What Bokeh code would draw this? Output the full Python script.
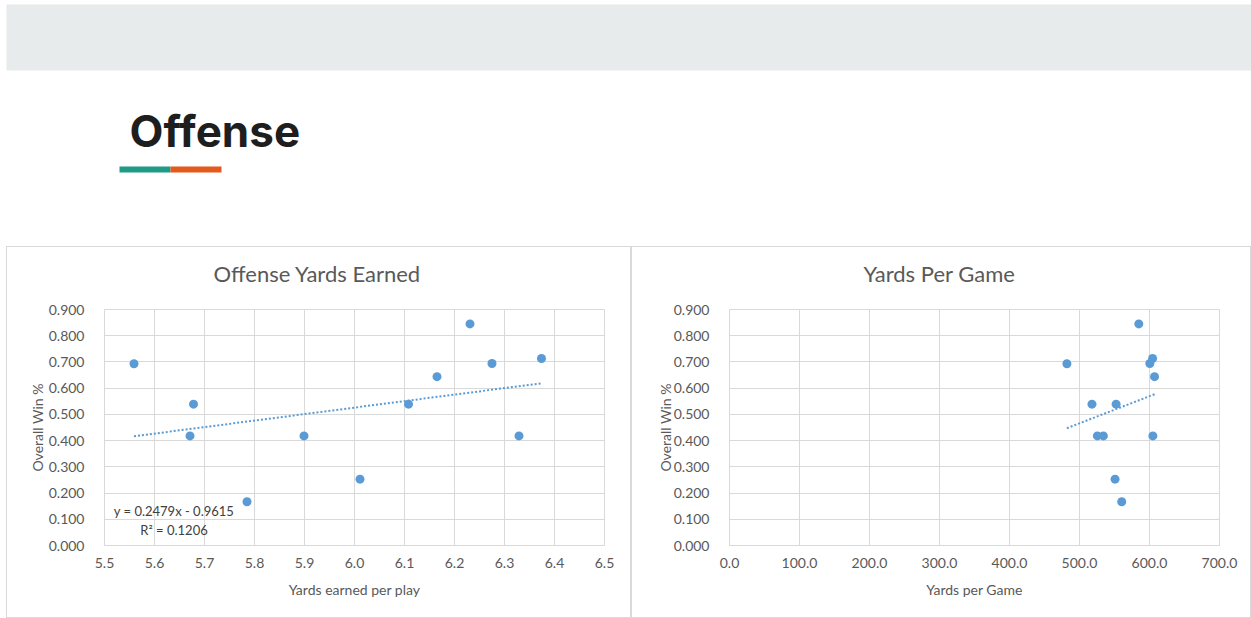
import numpy as np
from bokeh.plotting import figure
from bokeh.layouts import column, row
from bokeh.models import Range1d, FixedTicker, NumeralTickFormatter, Label, Spacer, Title
from bokeh.core.properties import value
from bokeh.embed import file_html
from bokeh.resources import INLINE

# ---------------- data ----------------
yards_per_play = [5.559, 5.678, 5.671, 5.785, 5.899, 6.011, 6.108, 6.165, 6.231, 6.275, 6.329, 6.374]
win_pct_a = [0.693, 0.539, 0.418, 0.167, 0.418, 0.253, 0.539, 0.644, 0.845, 0.694, 0.418, 0.713]

yards_per_game = [482.0, 517.8, 552.3, 525.5, 534.1, 604.8, 550.8, 560.3, 584.7, 604.4, 600.5, 607.2]
win_pct_b = [0.693, 0.539, 0.539, 0.418, 0.418, 0.418, 0.253, 0.167, 0.845, 0.713, 0.694, 0.644]

trend_a_slope = 0.2479
trend_a_intercept = -0.9615
trend_a_labels = ["y = 0.2479x - 0.9615", "R\u00b2 = 0.1206"]

x_ticks_a = [5.5, 5.6, 5.7, 5.8, 5.9, 6.0, 6.1, 6.2, 6.3, 6.4, 6.5]
x_ticks_b = [0, 100, 200, 300, 400, 500, 600, 700]
y_ticks = [0.0, 0.1, 0.2, 0.3, 0.4, 0.5, 0.6, 0.7, 0.8, 0.9]

page_title = "Offense"
chart_titles = ["Offense Yards Earned", "Yards Per Game"]
x_labels = ["Yards earned per play", "Yards per Game"]
y_label = "Overall Win %"

# ---------------- style ----------------
BLUE = "#5b9bd5"
GREY_TXT = "#595959"
GRID = "#d9d9d9"
FONT = "Lato"

# ---------------- header ----------------
header = figure(width=1251, height=246, x_range=Range1d(0, 1251), y_range=Range1d(246, 0),
                x_axis_type=None, y_axis_type=None, output_backend="svg",
                toolbar_location=None, min_border=0, outline_line_color=None)
header.grid.visible = False
header.quad(left=[6], right=[1251], top=[4], bottom=[70], color="#e8ebec", line_color=None)
header.text(x=[129], y=[130], text=[page_title], text_font=value("Inter"),
            text_font_style="bold", text_font_size="44px", text_baseline="alphabetic",
            text_color="#1e1e1e")
header.quad(left=[119], right=[170], top=[166], bottom=[172], color="#1f9a86", line_color=None)
header.quad(left=[170], right=[221], top=[166], bottom=[172], color="#e45a1c", line_color=None)


def make_panel(width, frame_w, xs, ys, x_range, x_ticks, x_fmt, title, title_left, xlabel,
               ylabel_standoff):
    border_left = 97
    p = figure(width=width, height=372, x_range=x_range, y_range=Range1d(0, 0.9),
               output_backend="svg", toolbar_location=None, title=None,
               min_border_left=border_left, min_border_right=width - 2 - border_left - frame_w,
               min_border_top=62, min_border_bottom=74, outline_line_color=GRID)
    p.styles = {"border": "1px solid #d9d9d9", "box-sizing": "border-box"}
    # spacer between plot area and chart title, then the title itself
    p.add_layout(Title(text=" ", text_font_size="1px", standoff=18), "above")
    p.add_layout(Title(text=title, align="left", offset=title_left, standoff=4,
                       text_font=FONT, text_font_size="22px", text_font_style="normal",
                       text_color=GREY_TXT), "above")

    p.xaxis.ticker = FixedTicker(ticks=x_ticks)
    p.yaxis.ticker = FixedTicker(ticks=y_ticks)
    p.xaxis.formatter = NumeralTickFormatter(format=x_fmt)
    p.yaxis.formatter = NumeralTickFormatter(format="0.000")
    for ax in (p.xaxis, p.yaxis):
        ax.major_tick_line_color = None
        ax.minor_tick_line_color = None
        ax.major_label_text_font = FONT
        ax.major_label_text_font_size = "14px"
        ax.major_label_text_color = GREY_TXT
        ax.axis_label_text_font = FONT
        ax.axis_label_text_font_size = "14px"
        ax.axis_label_text_font_style = "normal"
        ax.axis_label_text_color = GREY_TXT
    p.xaxis.axis_line_color = GRID
    p.yaxis.axis_line_color = None
    p.xaxis.major_label_standoff = 6
    p.yaxis.major_label_standoff = 14
    p.xaxis.axis_label = xlabel
    p.yaxis.axis_label = y_label
    p.xaxis.axis_label_standoff = 10
    p.yaxis.axis_label_standoff = ylabel_standoff
    p.grid.grid_line_color = GRID
    p.scatter(xs, ys, size=9, color=BLUE, line_color=None)
    return p


left = make_panel(625, 498, yards_per_play, win_pct_a, Range1d(5.5, 6.5), x_ticks_a, "0.0",
                  chart_titles[0], 109, x_labels[0], 0)
tx = np.array([min(yards_per_play), max(yards_per_play)])
left.line(tx, trend_a_slope * tx + trend_a_intercept, color=BLUE, line_width=2, line_dash="2 2")
left.add_layout(Label(x=5.639, y=0.131, text=trend_a_labels[0], text_align="center",
                      text_baseline="middle", text_font=FONT, text_font_size="13px",
                      text_color="#404040"))
left.add_layout(Label(x=5.639, y=0.058, text=trend_a_labels[1], text_align="center",
                      text_baseline="middle", text_font=FONT, text_font_size="13px",
                      text_color="#404040"))

right = make_panel(620, 488, yards_per_game, win_pct_b, Range1d(0, 700), x_ticks_b, "0.0",
                   chart_titles[1], 134, x_labels[1], -3)
slope_b, icpt_b = np.polyfit(yards_per_game, win_pct_b, 1)
tb = np.array([min(yards_per_game), max(yards_per_game)])
right.line(tb, slope_b * tb + icpt_b, color=BLUE, line_width=2, line_dash="2 2")

layout = column(header, row(Spacer(width=6), left, right, spacing=0), spacing=0)

open("out.html", "w").write(file_html(layout, INLINE))
